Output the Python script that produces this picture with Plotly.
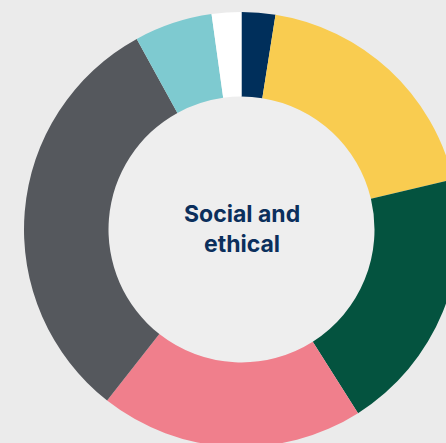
import plotly.graph_objects as go

# Share of each category, clockwise from 12 o'clock
categories = ["Governance", "Environment", "Climate", "Community", "Workforce", "Supply chain", "Other"]
shares = [2.5, 18.8, 19.7, 19.6, 31.4, 5.8, 2.2]
colors = ["#002f5b", "#f9cc50", "#04533f", "#f07f8c", "#55585d", "#7ecad0", "#ffffff"]
center_label = "Social and<br>ethical"

# Canvas is a bit larger than the viewport so the ring runs off the right/bottom edges
W, H = 460, 448
cx, cy = 241.5, 229.5          # ring centre in pixels (from top-left)
r_out, r_in = 217.5, 133.0     # outer / inner radius in pixels

fig = go.Figure(
    go.Pie(
        labels=categories,
        values=shares,
        marker=dict(colors=colors, line=dict(width=0)),
        hole=r_in / r_out,
        sort=False,
        direction="clockwise",
        rotation=0,
        textinfo="none",
        hoverinfo="label+percent",
        showlegend=False,
        domain=dict(
            x=[(cx - r_out) / W, (cx + r_out) / W],
            y=[1 - (cy + r_out) / H, 1 - (cy - r_out) / H],
        ),
    )
)

# Slightly lighter disc inside the ring
fig.add_shape(
    type="circle",
    xref="paper", yref="paper",
    x0=(cx - r_in) / W, x1=(cx + r_in) / W,
    y0=1 - (cy + r_in) / H, y1=1 - (cy - r_in) / H,
    fillcolor="#eeeeee",
    line=dict(width=0),
    layer="below",
)

fig.add_annotation(
    x=cx / W, y=1 - 229 / H,
    xref="paper", yref="paper",
    text=center_label,
    showarrow=False,
    align="center",
    xanchor="center", yanchor="middle",
    font=dict(family="Inter", size=23, color="#0b2f5c", weight=700),
)

fig.update_layout(
    width=W, height=H,
    margin=dict(l=0, r=0, t=0, b=0),
    paper_bgcolor="#ebebeb",
    plot_bgcolor="#ebebeb",
)

fig.write_html(
    "out.html",
    config={"displayModeBar": False},
    post_script="document.documentElement.style.overflow='hidden';"
                "document.body.style.overflow='hidden';"
                "document.body.style.margin='0';",
)
